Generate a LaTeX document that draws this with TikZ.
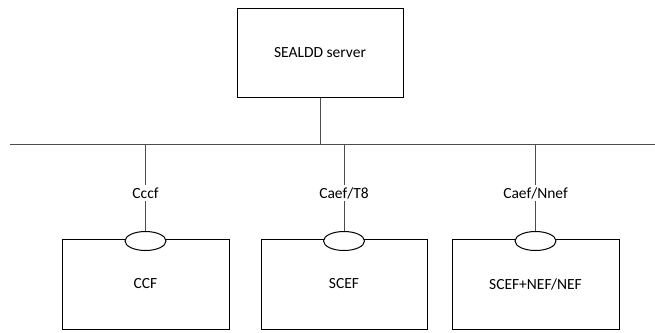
\documentclass[tikz,border=0pt]{standalone}
\usepackage{fontspec}
\setmainfont{Carlito}
\usetikzlibrary{shapes.geometric}

\begin{document}
\begin{tikzpicture}[x=1pt,y=1pt,
    box/.style={draw, line width=1pt, minimum width=166pt, minimum height=89pt, font=\fontsize{15.5}{18}\selectfont},
    port/.style={draw, ellipse, fill=white, line width=1pt, minimum width=41pt, minimum height=19pt, inner sep=0pt},
    iface/.style={inner sep=2pt, font=\fontsize{15.5}{18}\selectfont},
    link/.style={draw=black!70, line width=0.9pt}]
            \useasboundingbox (0,0) rectangle (655,-332);

            % Define the server on top
            \node[box] (sealdd) at (320,-52.5) {SEALDD server};

            % Define the bus
            \coordinate (busL) at (10,-144);
            \coordinate (busR) at (655,-144);
            \coordinate (busS) at (320,-144);
            \coordinate (tapA) at (145.5,-144);
            \coordinate (tapB) at (344,-144);
            \coordinate (tapC) at (535.5,-144);
            \draw[link] (busL) -- (busR);
            \draw[link] (sealdd) -- (busS);

            % Define the three functions below
            \node[box, minimum width=167pt, minimum height=90pt] (ccf) at (145.5,-284) {CCF};
            \node[box, minimum width=166pt, minimum height=90pt] (scef) at (344,-284) {SCEF};
            \node[box, minimum width=167pt, minimum height=90pt] (nef) at (535.5,-284) {SCEF+NEF/NEF};

            % Add the ports on the boxes
            \node[port] (portA) at (145.5,-241) {};
            \node[port] (portB) at (344,-241) {};
            \node[port] (portC) at (535.5,-241) {};

            % Add the interface labels
            \node[iface] (cccf) at (145.5,-193) {Cccf};
            \node[iface] (caeft) at (344,-193) {Caef/T8};
            \node[iface] (caefn) at (535.5,-193) {Caef/Nnef};

            % Connect the bus to the ports
            \draw[link] (tapA) -- (cccf) -- (portA);
            \draw[link] (tapB) -- (caeft) -- (portB);
            \draw[link] (tapC) -- (caefn) -- (portC);
        \end{tikzpicture}
\end{document}
